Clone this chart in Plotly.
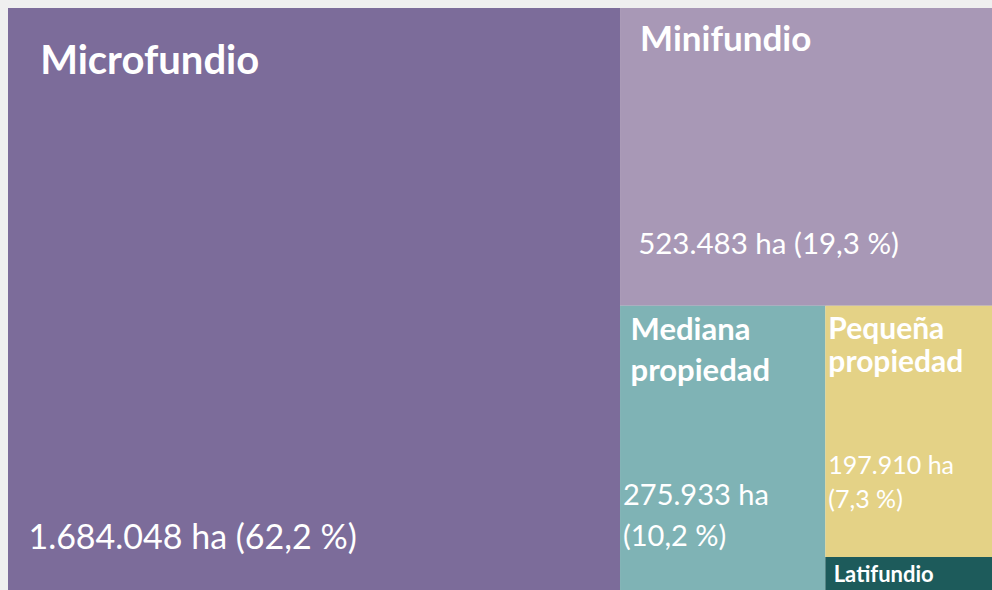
import plotly.graph_objects as go

# ---- data ----
categories = ["Microfundio", "Minifundio", "Mediana propiedad", "Pequeña propiedad", "Latifundio"]
hectares = [1684048, 523483, 275933, 197910, 26099]
percent_labels = ["62,2", "19,3", "10,2", "7,3", "1,0"]

# ---- styling (per tile) ----
colors = ["#7C6C9A", "#A898B6", "#7FB3B5", "#E4D286", "#1D5B5B"]
base_size = [36.5, 26, 31.7, 26, 22]        # controls line spacing
spacer_size = [16, 6, 0, 0, 0]              # optional top spacer line
label_size = [40, 35, 31, 30, 22]
value_size = [34, 29.5, 29, 25, 0]
label_indent = [3, 2, 1, 0, 1]
value_indent = [2, 2, 0, 0, 0]
gap_breaks = [10, 6, 3, 3, 0]
label_lines = [["Microfundio"], ["Minifundio"], ["Mediana", "propiedad"], ["Pequeña", "propiedad"], ["Latifundio"]]
value_split = [False, False, True, True, None]


def fmt_ha(v):
    return f"{v:,}".replace(",", ".")


texts = []
for i, cat in enumerate(categories):
    parts = []
    if spacer_size[i]:
        parts.append(f"<span style='font-size:{spacer_size[i]}px'>&nbsp;</span><br>")
    lab = "<br>".join(
        f"<span style='font-size:{label_size[i]}px'><b>{'&nbsp;' * label_indent[i]}{ln}</b></span>"
        for ln in label_lines[i]
    )
    parts.append(lab)
    if value_split[i] is not None:
        parts.append("<br>" * gap_breaks[i])
        ha = fmt_ha(hectares[i]) + " ha"
        pc = f"({percent_labels[i]} %)"
        ind = "&nbsp;" * value_indent[i]
        if value_split[i]:
            val = (f"<span style='font-size:{value_size[i]}px'>{ind}{ha}</span><br>"
                   f"<span style='font-size:{value_size[i]}px'>{ind}{pc}</span>")
        else:
            val = f"<span style='font-size:{value_size[i]}px'>{ind}{ha} {pc}</span>"
        parts.append(val)
    texts.append("".join(parts))

fig = go.Figure(
    go.Treemap(
        labels=categories,
        parents=[""] * len(categories),
        values=hectares,
        text=texts,
        texttemplate="%{text}",
        textposition="top left",
        textfont=dict(family="Lato", color="white", size=base_size),
        marker=dict(colors=colors, line=dict(width=0), pad=dict(t=0, l=0, r=0, b=0)),
        tiling=dict(pad=0, packing="squarify"),
        pathbar=dict(visible=False),
        sort=True,
        hoverinfo="label+value",
    )
)

fig.update_layout(
    width=992,
    height=590,
    margin=dict(l=8, t=8, r=0, b=0),
    paper_bgcolor="#EFEFEF",
    showlegend=False,
)

fig.write_html(
    "out.html",
    config={"displayModeBar": False},
    post_script=(
        "document.body.style.margin='0';"
        "document.body.style.overflow='hidden';"
        "document.body.style.background='#EFEFEF';"
    ),
)
